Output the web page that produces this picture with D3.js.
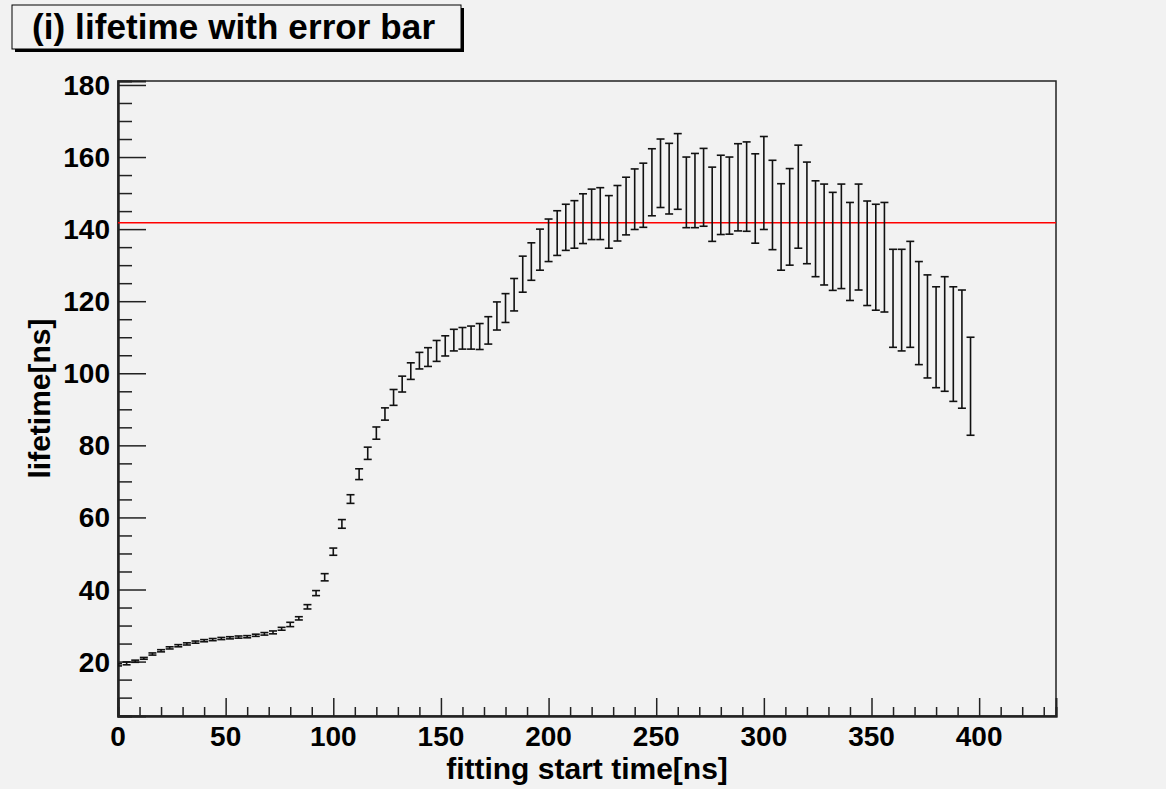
<!DOCTYPE html>
<html>
<head>
<meta charset="utf-8">
<script src="https://cdn.jsdelivr.net/npm/d3@7"></script>
<style>
  body { margin: 0; background: #f2f2f2; }
  text { font-family: "Liberation Sans", Arial, Helvetica, sans-serif; font-weight: bold; fill: #000; }
</style>
</head>
<body>
<div id="chart"></div>
<script>
// fitting start time [ns], one point every 4 ns
const startTimes = d3.range(0, 400, 4)

// fitted lifetime [ns]
const lifetimes = [
  19.1, 19.5, 20.1, 20.9, 22.1, 23.0, 23.8, 24.4, 24.9, 25.4,
  25.8, 26.1, 26.4, 26.6, 26.8, 26.9, 27.3, 27.7, 28.1, 29.1,
  30.3, 32.0, 35.2, 39.0, 43.4, 50.5, 58.2, 65.1, 72.0, 77.8,
  83.4, 88.7, 93.3, 97.0, 100.6, 103.5, 104.5, 106.2, 107.6, 109.2,
  109.7, 109.9, 110.2, 111.9, 115.9, 118.1, 121.8, 127.5, 131.0, 134.3,
  136.9, 138.9, 140.5, 141.3, 142.9, 144.1, 144.3, 142.0, 144.4, 146.4,
  148.3, 149.4, 153.0, 155.5, 154.0, 156.0, 150.2, 150.7, 151.6, 146.9,
  149.5, 149.3, 151.6, 151.8, 148.5, 152.8, 146.7, 140.6, 143.4, 149.0,
  144.5, 140.1, 138.5, 136.6, 138.0, 133.8, 137.8, 133.3, 132.2, 132.2,
  120.8, 120.3, 121.9, 116.7, 113.0, 110.0, 110.9, 108.1, 106.7, 96.4
]

// error on the lifetime [ns]
const lifetimeErrors = [
  0.3, 0.4, 0.3, 0.25, 0.3, 0.3, 0.3, 0.3, 0.3, 0.3,
  0.3, 0.3, 0.3, 0.3, 0.3, 0.3, 0.3, 0.35, 0.4, 0.4,
  0.6, 0.45, 0.6, 0.7, 1.0, 1.0, 1.2, 1.2, 1.5, 1.7,
  1.7, 1.7, 2.2, 2.2, 2.3, 2.3, 2.6, 2.9, 2.8, 3.0,
  3.0, 3.2, 3.6, 3.8, 3.9, 4.0, 4.5, 5.0, 5.2, 5.7,
  5.9, 6.2, 6.4, 6.6, 6.9, 7.0, 7.2, 7.3, 7.7, 8.0,
  8.4, 8.9, 9.3, 9.5, 9.8, 10.5, 9.8, 10.3, 10.8, 10.3,
  11.0, 10.7, 12.1, 12.4, 12.4, 12.9, 12.4, 12.0, 13.4, 14.3,
  14.1, 13.3, 14.0, 13.6, 14.5, 13.6, 14.7, 14.5, 14.7, 15.2,
  13.6, 14.1, 14.7, 14.3, 14.3, 14.0, 15.9, 15.9, 16.4, 13.6
]

// reference lifetime drawn as the red line
const referenceLifetime = [141.8]

const xTicks = [0, 50, 100, 150, 200, 250, 300, 350, 400]
const yTicks = [20, 40, 60, 80, 100, 120, 140, 160, 180]

const title = '(i) lifetime with error bar'
const xTitle = 'fitting start time[ns]'
const yTitle = 'lifetime[ns]'

// chart dimensions
const width = 1166
const height = 789
const frame = { left: 118, right: 1056, top: 81, bottom: 716 }

const svg = d3.select('#chart').append('svg')
  .attr('width', width)
  .attr('height', height)

svg.append('rect')
  .attr('width', width)
  .attr('height', height)
  .attr('fill', '#f2f2f2')

const x = d3.scaleLinear()
  .domain([0, 435.7])
  .range([frame.left, frame.right])

const y = d3.scaleLinear()
  .domain([4.9, 181.1])
  .range([frame.bottom, frame.top])

svg.append('clipPath')
  .attr('id', 'frame-clip')
  .append('rect')
  .attr('x', frame.left)
  .attr('y', frame.top)
  .attr('width', frame.right - frame.left)
  .attr('height', frame.bottom - frame.top)

// frame box (top and right side)
svg.append('rect')
  .attr('x', frame.left)
  .attr('y', frame.top)
  .attr('width', frame.right - frame.left)
  .attr('height', frame.bottom - frame.top)
  .attr('fill', 'none')
  .attr('stroke', '#222')
  .attr('stroke-width', 1.5)

// x axis, ticks pointing up into the frame
const xAxis = svg.append('g')
  .attr('transform', `translate(0, ${frame.bottom})`)

xAxis.call(d3.axisTop(x)
  .tickValues(d3.range(0, 436, 10).filter(v => v % 50 !== 0))
  .tickSize(9)
  .tickFormat(''))

xAxis.call(g => g.append('g').call(d3.axisTop(x)
  .tickValues(xTicks)
  .tickSize(18)
  .tickFormat('')))

xAxis.selectAll('.domain').attr('stroke', '#222').attr('stroke-width', 2)
xAxis.selectAll('.tick line').attr('stroke', '#222').attr('stroke-width', 1.5)

svg.append('g')
  .selectAll('text')
  .data(xTicks)
  .join('text')
  .attr('x', d => x(d))
  .attr('y', frame.bottom + 30)
  .attr('text-anchor', 'middle')
  .style('font-size', '28px')
  .text(d => d)

// y axis, ticks pointing right into the frame
const yAxis = svg.append('g')
  .attr('transform', `translate(${frame.left}, 0)`)

yAxis.call(d3.axisRight(y)
  .tickValues(d3.range(5, 181, 5).filter(v => v % 20 !== 0))
  .tickSize(14)
  .tickFormat(''))

yAxis.call(g => g.append('g').call(d3.axisRight(y)
  .tickValues(yTicks)
  .tickSize(28)
  .tickFormat('')))

yAxis.selectAll('.domain').attr('stroke', '#222').attr('stroke-width', 2)
yAxis.selectAll('.tick line').attr('stroke', '#222').attr('stroke-width', 1.5)

svg.append('g')
  .selectAll('text')
  .data(yTicks)
  .join('text')
  .attr('x', frame.left - 8)
  .attr('y', d => y(d) + 10)
  .attr('text-anchor', 'end')
  .style('font-size', '28px')
  .text(d => d)

// axis titles
svg.append('text')
  .attr('x', (frame.left + frame.right) / 2)
  .attr('y', 779)
  .attr('text-anchor', 'middle')
  .style('font-size', '30px')
  .text(xTitle)

svg.append('text')
  .attr('transform', `translate(50, ${(frame.top + frame.bottom) / 2}) rotate(-90)`)
  .attr('text-anchor', 'middle')
  .style('font-size', '30px')
  .text(yTitle)

// red reference line
svg.append('g')
  .selectAll('line')
  .data(referenceLifetime)
  .join('line')
  .attr('x1', frame.left)
  .attr('x2', frame.right)
  .attr('y1', d => y(d))
  .attr('y2', d => y(d))
  .attr('stroke', '#ff0000')
  .attr('stroke-width', 1.5)

// error bars
const points = startTimes.map((t, i) => ({
  t: t,
  value: lifetimes[i],
  err: lifetimeErrors[i]
}))

const bars = svg.append('g')
  .attr('clip-path', 'url(#frame-clip)')
  .attr('stroke', '#111')
  .attr('stroke-width', 1.6)
  .selectAll('g')
  .data(points)
  .join('g')

bars.append('line')
  .attr('x1', d => x(d.t))
  .attr('x2', d => x(d.t))
  .attr('y1', d => y(d.value + d.err))
  .attr('y2', d => y(d.value - d.err))

bars.append('line')
  .attr('x1', d => x(d.t) - 4)
  .attr('x2', d => x(d.t) + 4)
  .attr('y1', d => y(d.value + d.err))
  .attr('y2', d => y(d.value + d.err))

bars.append('line')
  .attr('x1', d => x(d.t) - 4)
  .attr('x2', d => x(d.t) + 4)
  .attr('y1', d => y(d.value - d.err))
  .attr('y2', d => y(d.value - d.err))

// title box with shadow
svg.append('rect')
  .attr('x', 15)
  .attr('y', 8)
  .attr('width', 449)
  .attr('height', 44)
  .attr('fill', '#000')

svg.append('rect')
  .attr('x', 12)
  .attr('y', 5)
  .attr('width', 449)
  .attr('height', 44)
  .attr('fill', '#f2f2f2')
  .attr('stroke', '#000')
  .attr('stroke-width', 1)

svg.append('text')
  .attr('x', 32)
  .attr('y', 39)
  .attr('textLength', 403)
  .attr('lengthAdjust', 'spacing')
  .style('font-size', '35px')
  .text(title)
</script>
</body>
</html>
